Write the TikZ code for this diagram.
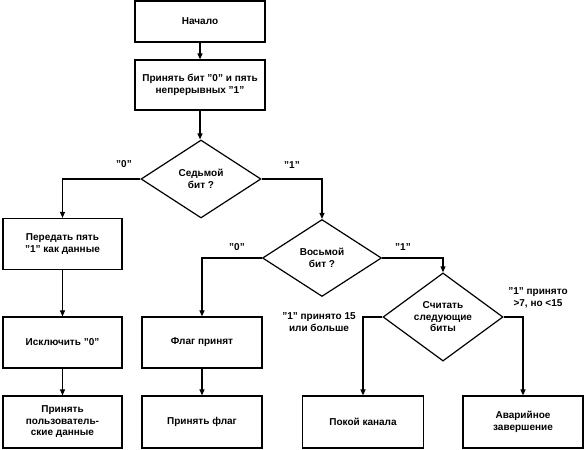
\documentclass[tikz,border=0pt]{standalone}
\usepackage{fontspec}
\setmainfont{Liberation Sans}
\usetikzlibrary{shapes.geometric,arrows.meta}
\begin{document}
\begin{tikzpicture}[x=1pt,y=-1pt,
  txt/.style={font=\fontsize{10}{11.5}\selectfont\bfseries},
  box/.style={txt,draw,line width=1.2pt,minimum width=119pt,minimum height=51pt,inner sep=0pt,align=center},
  dec/.style={txt,draw,diamond,line width=1.2pt,minimum width=120pt,minimum height=78pt,inner sep=0pt,align=center},
  lbl/.style={txt,align=center,inner sep=0pt},
  arr/.style={line width=1.1pt,-{Triangle[length=6pt,width=5pt]}}]
\useasboundingbox (0,0) rectangle (585,449);
% boxes
\node[box,minimum width=130pt,minimum height=41pt] (start) at (200,21.5) {Начало};
\node[box,minimum width=130pt,minimum height=50pt] (recv) at (200,85) {Принять бит "0" и пять\\непрерывных "1"};
\node[dec] (d1) at (201,179) {Седьмой\\бит ?};
\node[box] (b1) at (62.5,244) {Передать пять\\"1" как данные};
\node[box] (b2) at (62.5,342.5) {Исключить "0"};
\node[box,minimum height=52pt] (b3) at (62.5,422) {Принять\\пользователь-\\ские данные};
\node[dec,minimum width=119pt,minimum height=77pt] (d2) at (322,258) {Восьмой\\бит ?};
\node[box,minimum width=120pt] (f1) at (202,342.5) {Флаг принят};
\node[box,minimum width=120pt,minimum height=52pt] (f2) at (202,422) {Принять флаг};
\node[dec,minimum height=80pt] (d3) at (443,317) {Считать\\следующие\\биты};
\node[box,minimum width=121pt,minimum height=52pt] (p) at (363,422) {Покой канала};
\node[box,minimum width=120pt,minimum height=52pt] (a) at (523,422) {Аварийное\\завершение};
% labels
\node[lbl] (l1) at (124,164) {"0"};
\node[lbl] (l2) at (292,165) {"1"};
\node[lbl] (l3) at (237,247) {"0"};
\node[lbl] (l4) at (403,247) {"1"};
\node[lbl] (l5) at (319,322) {"1" принято 15\\или больше};
\node[lbl] (l6) at (538,298) {"1" принято\\>7, но <15};
% connectors
\draw[arr] (start) -- (recv);
\draw[arr] (recv.south) -- (recv.south |- d1.north);
\draw[arr] (d1.west) -| (b1.north);
\draw[arr] (d1.east) -| (d2.north);
\draw[arr] (b1) -- (b2);
\draw[arr] (b2) -- (b3);
\draw[arr] (d2.west) -| (f1.north);
\draw[arr] (f1) -- (f2);
\draw[arr] (d2.east) -| (d3.north);
\draw[arr] (d3.west) -| (p.north);
\draw[arr] (d3.east) -| (a.north);
\end{tikzpicture}
\end{document}
